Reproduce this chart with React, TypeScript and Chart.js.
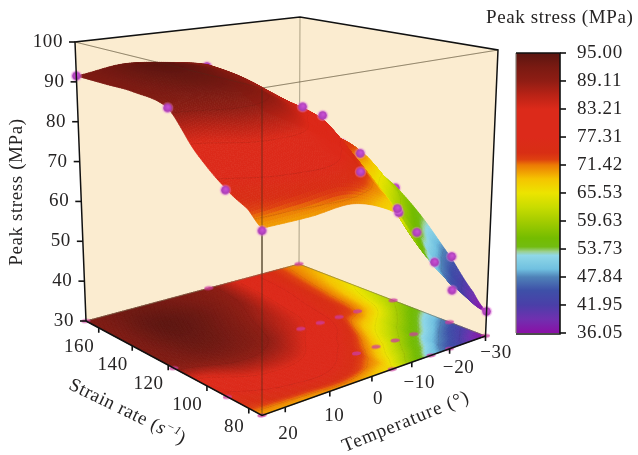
import React, { useEffect, useRef } from "react";
import { Chart, registerables } from "chart.js";

Chart.register(...registerables);

// ---------- data ----------
const temperatureNodes = [25, 15, 5, -5, -10, -15, -20, -30];
const strainRateNodes = [74, 80, 90, 104, 117, 135, 150, 168];
const stressAtRate74 = [70, 70, 70.5, 66, 58, 51, 45, 36];
const stressAtRate80 = [73, 74.5, 75, 69.5, 62, 55, 48.5, 39.5];
const stressAtRate90 = [76, 80, 80, 74, 68, 61, 55, 46];
const stressAtRate104 = [82, 87, 86, 79.5, 75, 68, 63, 54];
const stressAtRate117 = [90, 92, 90, 84, 81, 74, 71, 60];
const stressAtRate135 = [91.5, 94, 92, 87, 83, 77, 73, 65];
const stressAtRate150 = [91.5, 94.5, 93, 89, 84.5, 79, 74, 68];
const stressAtRate168 = [91.5, 93, 92, 90, 85.5, 80, 75, 70];
const stressGrid = [stressAtRate74, stressAtRate80, stressAtRate90, stressAtRate104, stressAtRate117, stressAtRate135, stressAtRate150, stressAtRate168];

const sampleTemps = [25, 25, 25, 25, -5, -10, -20, -5, -15, -20, -30, -30, -5, -15, -20, -30, -5, -30, -15, -10];
const sampleRates = [168, 117, 90, 74, 117, 117, 117, 90, 90, 90, 117, 90, 74, 74, 74, 74, 168, 168, 117, 90];
const sampleStress = [91.5, 90, 75.5, 69.5, 85, 82, 70.5, 73, 61, 55, 59.5, 46.5, 67, 52, 44, 36, 89.5, 70, 74, 67];
const sampleBehindSurface = [false, false, false, false, false, false, false, false, false, false, true, false, false, false, false, false, true, true, true, true];

const stressTicks = [100, 90, 80, 70, 60, 50, 40, 30];
const rateTicks = [160, 140, 120, 100, 80];
const tempTicks = [20, 10, 0, -10, -20, -30];
const colorbarTicks = [95.0, 89.11, 83.21, 77.31, 71.42, 65.53, 59.63, 53.73, 47.84, 41.95, 36.05];

const colormapValues = [36.05, 39, 41.95, 45, 47.84, 49.5, 52.4, 53.2, 54.2, 56, 59.63, 62.5, 65.53, 68.5, 71.42, 72.6, 74, 77.31, 83.21, 86, 89.11, 92, 95];
const colormapColors = ["#8a10a6", "#7030b0", "#4a3fa8", "#3e50a8", "#4f82b8", "#70c0e0", "#90d8e8", "#9cd090", "#72bc10", "#74bc00", "#a4cc00", "#c8dc00", "#ece400", "#f5c400", "#ec7a04", "#de4010", "#d82e14", "#dc2a1a", "#dc2a1a", "#bb2316", "#8f1d14", "#7a1a12", "#5a1510"];

// ---------- projection configuration ----------
const T_HOT = 25, T_COLD = -30, R_MIN = 74, R_MAX = 168, Z_MIN = 30, Z_MAX = 100;
type P = [number, number];
const floorQuad: P[] = [[262, 415.5], [485.5, 336], [299, 264], [86, 321]];
const roofQuad: P[] = [[262, 88], [498, 50], [300, 17], [75, 42]];

function homography(q: P[]) {
  const [[x0, y0], [x1, y1], [x2, y2], [x3, y3]] = q;
  const dx1 = x1 - x2, dx2 = x3 - x2, sx = x0 - x1 + x2 - x3;
  const dy1 = y1 - y2, dy2 = y3 - y2, sy = y0 - y1 + y2 - y3;
  const den = dx1 * dy2 - dx2 * dy1;
  const g = (sx * dy2 - dx2 * sy) / den, h = (dx1 * sy - sx * dy1) / den;
  const a = x1 - x0 + g * x1, b = x3 - x0 + h * x3, d = y1 - y0 + g * y1, e = y3 - y0 + h * y3;
  return (u: number, v: number): P => {
    const w = g * u + h * v + 1;
    return [(a * u + b * v + x0) / w, (d * u + e * v + y0) / w];
  };
}
const floorH = homography(floorQuad);
const roofH = homography(roofQuad);
function project(t: number, r: number, z: number) {
  const u = (T_HOT - t) / (T_HOT - T_COLD), v = (r - R_MIN) / (R_MAX - R_MIN), w = (z - Z_MIN) / (Z_MAX - Z_MIN);
  const a = floorH(u, v), b = roofH(u, v);
  return { x: a[0] + (b[0] - a[0]) * w, y: a[1] + (b[1] - a[1]) * w };
}

// ---------- helpers ----------
function hex(c: string) { return [1, 3, 5].map((i) => parseInt(c.slice(i, i + 2), 16)); }
const cmRgb = colormapColors.map(hex);
function colorOf(z: number) {
  const v = Math.min(95, Math.max(36.05, z));
  let i = 0;
  while (i < colormapValues.length - 2 && v > colormapValues[i + 1]) i++;
  const f = (v - colormapValues[i]) / (colormapValues[i + 1] - colormapValues[i]);
  const c = cmRgb[i].map((p, k) => Math.round(p + (cmRgb[i + 1][k] - p) * f));
  return `rgb(${c[0]},${c[1]},${c[2]})`;
}
function nodeIndex(nodes: number[], x: number) {
  const asc = nodes[0] < nodes[nodes.length - 1];
  for (let i = 0; i < nodes.length - 1; i++) {
    const a = nodes[i], b = nodes[i + 1];
    if (asc ? x <= b : x >= b) return i + (x - a) / (b - a);
  }
  return nodes.length - 1;
}
function cr(a: number, b: number, c: number, d: number, t: number) {
  return 0.5 * (2 * b + (c - a) * t + (2 * a - 5 * b + 4 * c - d) * t * t + (3 * b - a - 3 * c + d) * t * t * t);
}
function stressAt(t: number, r: number) {
  const it = nodeIndex(temperatureNodes, t), ir = nodeIndex(strainRateNodes, r);
  const i0 = Math.min(Math.floor(it), temperatureNodes.length - 2), j0 = Math.min(Math.floor(ir), strainRateNodes.length - 2);
  const ft = it - i0, fr = ir - j0;
  const row = (j: number) => {
    const R = stressGrid[Math.max(0, Math.min(stressGrid.length - 1, j))];
    const g = (i: number) => R[Math.max(0, Math.min(R.length - 1, i))];
    return cr(g(i0 - 1), g(i0), g(i0 + 1), g(i0 + 2), ft);
  };
  return cr(row(j0 - 1), row(j0), row(j0 + 1), row(j0 + 2), fr);
}

const N = 110;
function drawMesh(chart: any, onFloor: boolean) {
  const { ctx, scales } = chart;
  const sx = (v: number) => scales.x.getPixelForValue(v), sy = (v: number) => scales.y.getPixelForValue(v);
  const Z: number[][] = [], PX: number[][] = [], PY: number[][] = [];
  for (let i = 0; i <= N; i++) {
    const t = T_COLD + ((T_HOT - T_COLD) * i) / N;
    Z[i] = []; PX[i] = []; PY[i] = [];
    for (let j = 0; j <= N; j++) {
      const r = R_MAX - ((R_MAX - R_MIN) * j) / N;
      const z = stressAt(t, r);
      const p = project(t, r, onFloor ? Z_MIN : z);
      Z[i][j] = z; PX[i][j] = sx(p.x); PY[i][j] = sy(p.y);
    }
  }
  ctx.save();
  ctx.lineWidth = 0.7;
  ctx.lineJoin = "round";
  for (let i = 0; i < N; i++) {
    for (let j = 0; j < N; j++) {
      const zz = (Z[i][j] + Z[i + 1][j] + Z[i][j + 1] + Z[i + 1][j + 1]) / 4;
      const col = colorOf(zz);
      ctx.fillStyle = col; ctx.strokeStyle = col;
      ctx.beginPath();
      ctx.moveTo(PX[i][j], PY[i][j]);
      ctx.lineTo(PX[i + 1][j], PY[i + 1][j]);
      ctx.lineTo(PX[i + 1][j + 1], PY[i + 1][j + 1]);
      ctx.lineTo(PX[i][j + 1], PY[i][j + 1]);
      ctx.closePath();
      ctx.fill(); ctx.stroke();
      // faint contour lines
      const corners = [[i, j], [i + 1, j], [i + 1, j + 1], [i, j + 1]];
      for (const lev of colorbarTicks) {
        const pts: P[] = [];
        for (let k = 0; k < 4; k++) {
          const [a, b] = corners[k], [c, d] = corners[(k + 1) % 4];
          const za = Z[a][b], zb = Z[c][d];
          if ((za - lev) * (zb - lev) < 0) {
            const f = (lev - za) / (zb - za);
            pts.push([PX[a][b] + (PX[c][d] - PX[a][b]) * f, PY[a][b] + (PY[c][d] - PY[a][b]) * f]);
          }
        }
        if (pts.length === 2) {
          ctx.save();
          ctx.strokeStyle = "rgba(50,20,10,0.16)";
          ctx.lineWidth = 0.8;
          ctx.beginPath(); ctx.moveTo(pts[0][0], pts[0][1]); ctx.lineTo(pts[1][0], pts[1][1]); ctx.stroke();
          ctx.restore();
        }
      }
    }
  }
  ctx.restore();
}

function makeSphere() {
  const c = document.createElement("canvas");
  c.width = 15; c.height = 15;
  const g = c.getContext("2d")!;
  g.fillStyle = "rgba(235,130,225,0.4)";
  g.beginPath(); g.arc(7.5, 7.5, 5.8, 0, Math.PI * 2); g.fill();
  const rg = g.createRadialGradient(8, 6.5, 0.5, 7.5, 7.5, 4.6);
  rg.addColorStop(0, "#c850d4"); rg.addColorStop(0.7, "#b040bc"); rg.addColorStop(1, "#a034ae");
  g.fillStyle = rg;
  g.beginPath(); g.arc(7.5, 7.5, 4.3, 0, Math.PI * 2); g.fill();
  return c;
}
function makeSpot() {
  const c = document.createElement("canvas");
  c.width = 13; c.height = 7;
  const g = c.getContext("2d")!;
  g.fillStyle = "rgba(205,60,160,0.75)";
  g.beginPath(); g.ellipse(6.5, 3.5, 4.6, 1.9, -0.1, 0, Math.PI * 2); g.fill();
  return c;
}

const SERIF = '"Liberation Serif", serif';
const FS = 19;
const INK = "#262424";

const textPlugin = {
  id: "labels3d",
  beforeDatasetDraw(chart: any, args: any) {
    const ds = chart.data.datasets[args.index];
    if (ds.meshKind) drawMesh(chart, ds.meshKind === "floor");
  },
  afterDatasetsDraw(chart: any) {
    const { ctx, scales } = chart;
    const X = (v: number) => scales.x.getPixelForValue(v), Y = (v: number) => scales.y.getPixelForValue(v);
    ctx.save();
    ctx.fillStyle = INK;
    ctx.strokeStyle = "#000";
    ctx.textBaseline = "middle";
    ctx.font = `${FS}px ${SERIF}`;
    (ctx as any).letterSpacing = "0.6px";

    // stress axis labels
    ctx.textAlign = "right";
    stressTicks.forEach((v) => {
      const p = project(T_HOT, R_MAX, v);
      ctx.fillText(String(v), X(p.x) - 12, Y(p.y));
    });
    // strain-rate axis labels
    rateTicks.forEach((v) => {
      const p = project(T_HOT, v, Z_MIN);
      ctx.fillText(String(v), X(p.x) - 4.5, Y(p.y) + 19);
    });
    // temperature axis labels
    ctx.textAlign = "center";
    tempTicks.forEach((v, i) => {
      const p = project(v, R_MIN, Z_MIN);
      const s = v < 0 ? "\u2212" + Math.abs(v) : String(v);
      ctx.fillText(s, X(p.x) + 3 + i * 1.5, Y(p.y) + 27 - i * 2);
    });
    // colour bar labels
    ctx.textAlign = "left";
    colorbarTicks.forEach((v) => {
      ctx.fillText(v.toFixed(2), X(577), Y(cbY(v)));
    });
    ctx.fillText("Peak stress (MPa)", X(486), Y(18));

    // colour bar
    const top = Y(cbY(95)), bottom = Y(cbY(36.05)), left = X(516), right = X(560);
    const grad = ctx.createLinearGradient(0, top, 0, bottom);
    colormapValues.forEach((v, i) => grad.addColorStop((95 - v) / (95 - 36.05), colormapColors[i]));
    ctx.fillStyle = grad;
    ctx.fillRect(left, top, right - left, bottom - top);
    ctx.strokeStyle = "#8a8078"; ctx.lineWidth = 1.2;
    ctx.beginPath(); ctx.moveTo(left, bottom); ctx.lineTo(left, top); ctx.stroke();
    ctx.strokeStyle = "#111"; ctx.lineWidth = 1.6;
    ctx.beginPath(); ctx.moveTo(left, top); ctx.lineTo(right, top); ctx.lineTo(right, bottom + 1); ctx.lineTo(left, bottom + 1); ctx.stroke();
    colorbarTicks.forEach((v) => {
      ctx.beginPath(); ctx.moveTo(right, Y(cbY(v))); ctx.lineTo(right + 6, Y(cbY(v))); ctx.stroke();
    });

    // rotated titles
    ctx.fillStyle = INK;
    ctx.save();
    ctx.translate(X(17), Y(192));
    ctx.rotate(-Math.PI / 2);
    ctx.textAlign = "center";
    ctx.fillText("Peak stress (MPa)", 0, 0);
    ctx.restore();

    ctx.save();
    ctx.translate(X(406), Y(422));
    ctx.rotate((-22 * Math.PI) / 180);
    ctx.textAlign = "center";
    (ctx as any).letterSpacing = "1px";
    ctx.fillText("Temperature (\u00b0)", 0, 0);
    (ctx as any).letterSpacing = "0.6px";
    ctx.restore();

    ctx.save();
    ctx.translate(X(70), Y(384));
    ctx.rotate((26 * Math.PI) / 180);
    ctx.textAlign = "left";
    let cx = 0;
    const seg = (s: string, font: string, dy: number) => {
      ctx.font = font;
      ctx.fillText(s, cx, dy);
      cx += ctx.measureText(s).width;
    };
    seg("Strain rate (", `${FS}px ${SERIF}`, 0);
    seg("s", `italic ${FS}px ${SERIF}`, 0);
    seg("\u22121", `italic 12px ${SERIF}`, -5);
    seg(")", `${FS}px ${SERIF}`, 0);
    ctx.restore();
    ctx.restore();
  },
};

const CB_TOP = 53, CB_BOTTOM = 333;
function cbY(v: number) {
  return CB_TOP + ((95 - v) / (95 - 36.05)) * (CB_BOTTOM - CB_TOP);
}

function lineDs(points: { x: number; y: number }[], color: string, width: number, extra: any = {}) {
  return { type: "scatter", data: points, showLine: true, borderColor: color, borderWidth: width, pointRadius: 0, tension: 0, fill: false, ...extra };
}

export default function App() {
  const ref = useRef<HTMLCanvasElement | null>(null);
  useEffect(() => {
    const c = (t: number, r: number, z: number) => project(t, r, z);
    const wallFill = "#fbecd0";
    const thin = "rgba(120,110,80,0.6)";
    const faint = "rgba(70,50,30,0.22)";
    const samples = sampleTemps.map((t, i) => ({ t, r: sampleRates[i], z: sampleStress[i], back: sampleBehindSurface[i] }));
    const sphere = makeSphere();
    const spot = makeSpot();

    const back2front: any[] = [
      // back walls
      lineDs([c(T_HOT, R_MAX, Z_MIN), c(T_COLD, R_MAX, Z_MIN), c(T_COLD, R_MAX, Z_MAX), c(T_HOT, R_MAX, Z_MAX), c(T_HOT, R_MAX, Z_MIN)], wallFill, 0, { fill: "shape", backgroundColor: wallFill }),
      lineDs([c(T_COLD, R_MIN, Z_MIN), c(T_COLD, R_MAX, Z_MIN), c(T_COLD, R_MAX, Z_MAX), c(T_COLD, R_MIN, Z_MAX), c(T_COLD, R_MIN, Z_MIN)], wallFill, 0, { fill: "shape", backgroundColor: wallFill }),
      // upper front faces are also tinted in the reference
      lineDs([c(T_HOT, R_MAX, Z_MAX), c(T_HOT, R_MIN, Z_MAX), c(T_COLD, R_MIN, Z_MAX), c(T_COLD, R_MAX, Z_MAX)], wallFill, 0, { fill: "shape", backgroundColor: wallFill }),
      // inner box lines behind the surface
      lineDs([c(T_COLD, R_MAX, Z_MAX), c(T_COLD, R_MAX, Z_MIN)], thin, 1),
      lineDs([c(T_HOT, R_MIN, Z_MAX), c(T_HOT, R_MAX, Z_MAX)], thin, 1),
      lineDs([c(T_HOT, R_MIN, Z_MAX), c(T_COLD, R_MIN, Z_MAX)], thin, 1),
      lineDs([c(T_HOT, R_MIN, Z_MAX), c(T_HOT, R_MIN, Z_MIN)], thin, 1),
      // floor contour map
      { type: "scatter", meshKind: "floor", data: [c(T_HOT, R_MIN, Z_MIN), c(T_COLD, R_MAX, Z_MIN)], pointRadius: 0, showLine: false },
      lineDs([c(T_HOT, R_MAX, Z_MIN), c(T_COLD, R_MAX, Z_MIN), c(T_COLD, R_MIN, Z_MIN)], thin, 1),
      // sample projections on the floor
      { type: "scatter", data: samples.map((s) => c(s.t, s.r, Z_MIN)), pointStyle: spot, pointRadius: 5 },
      // samples hidden behind the surface
      { type: "scatter", data: samples.filter((s) => s.back).map((s) => c(s.t, s.r, s.z)), pointStyle: sphere, pointRadius: 6 },
      // the surface
      { type: "scatter", meshKind: "surface", data: [c(T_HOT, R_MIN, Z_MIN), c(T_COLD, R_MAX, Z_MIN)], pointRadius: 0, showLine: false },
      // front box lines, faintly visible over the surface
      lineDs([c(T_HOT, R_MIN, Z_MAX), c(T_HOT, R_MIN, Z_MIN)], faint, 1),
      lineDs([c(T_HOT, R_MIN, Z_MAX), c(T_COLD, R_MIN, Z_MAX)], faint, 1),
      lineDs([c(T_HOT, R_MIN, Z_MAX), c(T_HOT, R_MAX, Z_MAX)], faint, 1),
      // samples on top of the surface
      { type: "scatter", data: samples.filter((s) => !s.back).map((s) => c(s.t, s.r, s.z)), pointStyle: sphere, pointRadius: 6 },
      // black frame
      lineDs([c(T_HOT, R_MAX, Z_MIN), c(T_HOT, R_MAX, Z_MAX), c(T_COLD, R_MAX, Z_MAX), c(T_COLD, R_MIN, Z_MAX), c(T_COLD, R_MIN, Z_MIN)], "#111", 1.5),
      lineDs([c(T_HOT, R_MAX, Z_MIN), c(T_HOT, R_MIN, Z_MIN), c(T_COLD, R_MIN, Z_MIN)], "#111", 1.6),
      // tick marks of the three axes
      ...stressTicks.map((v) => {
        const p = c(T_HOT, R_MAX, v);
        return lineDs([p, { x: p.x - 6, y: p.y }], "#111", 1.6);
      }),
      ...rateTicks.map((v) => {
        const p = c(T_HOT, v, Z_MIN);
        return lineDs([p, { x: p.x, y: p.y + 5 }], "#111", 1.6);
      }),
      ...tempTicks.map((v) => {
        const p = c(v, R_MIN, Z_MIN);
        return lineDs([p, { x: p.x, y: p.y + 5 }], "#111", 1.6);
      }),
    ];
    const datasets = back2front.map((d, i) => ({ ...d, order: back2front.length - i, clip: false }));

    const chart = new Chart(ref.current as any, {
      type: "scatter",
      data: { datasets },
      plugins: [textPlugin],
      options: {
        animation: false,
        responsive: false,
        maintainAspectRatio: false,
        layout: { padding: 0, autoPadding: false },
        events: [],
        scales: {
          x: { type: "linear", min: 0, max: 638, display: false },
          y: { type: "linear", min: 0, max: 455, reverse: true, display: false },
        },
        plugins: { legend: { display: false }, tooltip: { enabled: false }, title: { display: false } },
      },
    } as any);
    return () => chart.destroy();
  }, []);
  return (
    <canvas ref={ref} width={638} height={455} style={{ position: "fixed", left: 0, top: 0, display: "block", background: "#fff" }} />
  );
}
